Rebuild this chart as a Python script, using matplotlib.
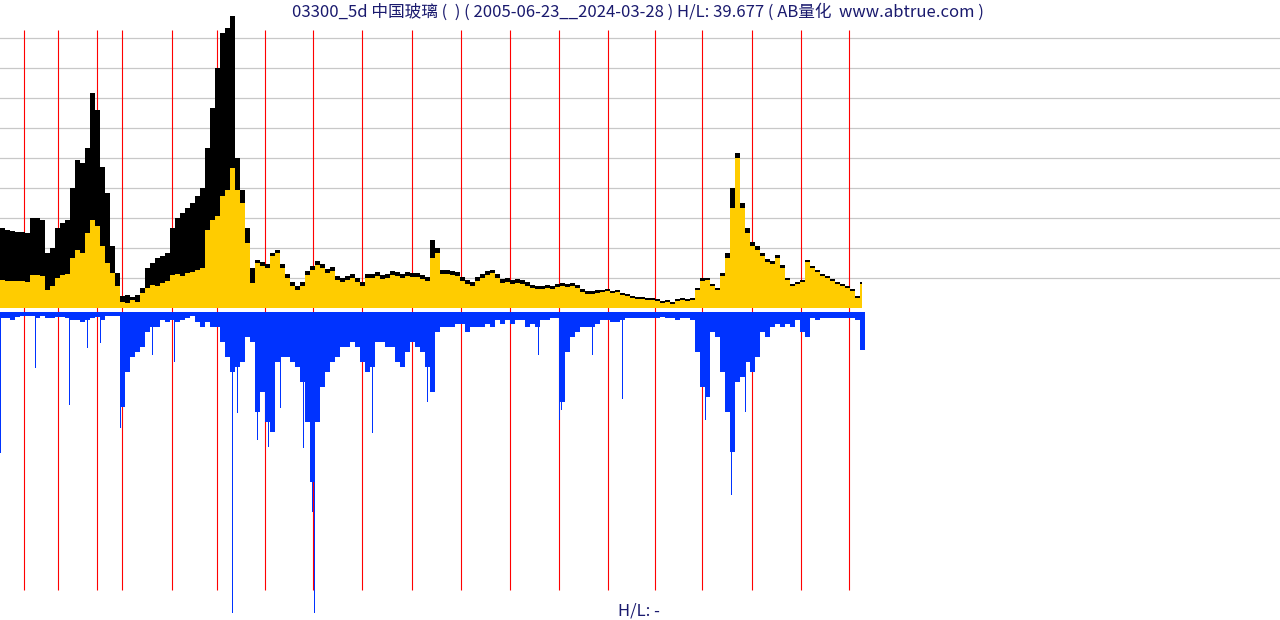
import numpy as np
import matplotlib
matplotlib.use('Agg')
import matplotlib.pyplot as plt
import matplotlib.transforms as mtransforms

plt.rcParams['font.family'] = ['Noto Sans CJK SC', 'DejaVu Sans']

# bar positions (one sample every 5 bars)
step = 5
xs = np.arange(0, 861, step)

# close (yellow area), price units
close = [28, 27, 27, 27, 27, 26, 33, 33, 32, 18,
         22, 30, 33, 34, 50, 58, 55, 75, 88, 82,
         62, 45, 35, 22, 6, 5, 8, 6, 15, 20,
         23, 22, 25, 27, 33, 34, 32, 35, 36, 38,
         40, 78, 88, 92, 112, 118, 140, 118, 105, 65,
         25, 45, 42, 40, 52, 55, 40, 30, 22, 18,
         22, 33, 38, 43, 40, 35, 37, 28, 26, 28,
         30, 26, 22, 30, 30, 32, 29, 30, 33, 32,
         30, 32, 31, 31, 29, 27, 50, 55, 34, 34,
         33, 32, 27, 24, 22, 27, 30, 33, 35, 30,
         25, 26, 24, 25, 24, 22, 20, 19, 19, 20,
         19, 21, 22, 21, 22, 20, 16, 14, 14, 15,
         16, 17, 15, 16, 13, 12, 10, 9, 9, 8,
         8, 7, 5, 6, 4, 7, 8, 7, 8, 18,
         27, 28, 22, 18, 32, 50, 100, 150, 100, 75,
         62, 58, 52, 46, 44, 50, 40, 28, 22, 24,
         26, 46, 40, 36, 32, 30, 27, 24, 22, 20,
         17, 10, 24]

# high (black area)
high = [80, 78, 77, 76, 76, 75, 90, 90, 88, 55,
        60, 80, 85, 88, 120, 148, 145, 160, 215, 198,
        141, 115, 62, 35, 12, 13, 11, 13, 20, 40,
        45, 50, 52, 55, 80, 90, 95, 100, 105, 112,
        120, 160, 200, 240, 275, 280, 292, 150, 118, 80,
        40, 48, 46, 44, 55, 58, 44, 34, 26, 22,
        26, 37, 42, 47, 44, 39, 41, 32, 30, 32,
        34, 30, 26, 34, 34, 36, 33, 34, 37, 36,
        34, 36, 35, 35, 33, 31, 68, 60, 38, 38,
        37, 36, 31, 28, 26, 31, 34, 37, 38, 34,
        29, 30, 28, 29, 28, 26, 23, 22, 22, 23,
        22, 24, 25, 24, 25, 23, 19, 17, 17, 18,
        18, 19, 17, 18, 15, 14, 12, 11, 11, 10,
        10, 9, 7, 8, 6, 9, 10, 9, 10, 20,
        30, 30, 24, 20, 35, 55, 120, 155, 105, 80,
        66, 62, 55, 49, 47, 53, 43, 30, 24, 26,
        28, 48, 42, 38, 34, 32, 29, 26, 24, 22,
        19, 12, 26]

# volume (blue, drawn downward)
volume = [6, 6, 8, 5, 4, 4, 4, 6, 4, 6,
          6, 5, 5, 6, 8, 8, 10, 8, 6, 5,
          8, 4, 4, 4, 95, 60, 45, 40, 35, 20,
          15, 15, 8, 10, 8, 10, 8, 6, 4, 10,
          15, 10, 15, 15, 30, 45, 60, 55, 50, 25,
          30, 100, 80, 110, 120, 50, 45, 45, 50, 55,
          70, 110, 170, 110, 75, 60, 50, 45, 35, 35,
          30, 35, 50, 60, 55, 30, 30, 35, 35, 50,
          55, 40, 30, 35, 40, 55, 80, 20, 15, 15,
          15, 12, 12, 20, 15, 15, 15, 12, 15, 8,
          12, 8, 12, 8, 8, 15, 12, 15, 8, 8,
          6, 6, 90, 40, 25, 20, 15, 15, 15, 12,
          8, 8, 10, 10, 8, 6, 6, 6, 6, 6,
          6, 6, 5, 6, 6, 8, 6, 6, 8, 40,
          75, 85, 20, 25, 60, 100, 140, 70, 65, 50,
          60, 45, 20, 25, 15, 12, 15, 12, 15, 8,
          20, 25, 6, 8, 6, 6, 6, 6, 6, 6,
          6, 8, 38]

# single-day volume spikes
spike_x = [0, 35, 69, 87, 100, 120, 152, 174, 232, 237, 257, 268, 280,
           303, 312, 314, 372, 427, 538, 559, 561, 592, 622, 705, 731, 745]
spike_v = [141, 56, 93, 36, 31, 116, 43, 50, 301, 101, 128, 135, 96,
           136, 200, 301, 121, 90, 43, 108, 98, 43, 87, 108, 183, 100]

# year boundaries (bar index)
year_marks = [24, 58, 97, 122, 172, 217, 265, 313, 362, 412, 461, 510,
              559, 608, 655, 702, 752, 801, 849]
last_bar = 862

W, H = 1280, 620
fig = plt.figure(figsize=(12.8, 6.2), dpi=100)

# price panel
ax = fig.add_axes([0, (H - 308) / H, 1, 308 / H])
ax.set_xlim(0, W)
ax.set_ylim(0, 308)
ax.axis('off')
for g in range(30, 271, 30):
    ax.axhline(g, color='#c8c8c8', lw=0.9, zorder=0)

blend = mtransforms.blended_transform_factory(ax.transData, fig.transFigure)
ax.vlines(year_marks, (H - 590) / H, (H - 30) / H, colors='#ff0000', lw=0.8,
          transform=blend, clip_on=False, zorder=1)

edges = np.append(xs, last_bar)
ax.stairs(high, edges, fill=True, baseline=0, color='black', zorder=2)
ax.stairs(close, edges, fill=True, baseline=0, color='#ffcc00', zorder=3)

# volume panel
axv = fig.add_axes([0, 0, 1, (H - 312) / H])
axv.set_xlim(0, W)
axv.set_ylim(H - 312, 0)
axv.axis('off')
axv.patch.set_alpha(0)
vol = np.maximum(volume, 3)
axv.bar(xs, vol, width=step, align='edge', color='#0033ff', lw=0)
axv.bar(spike_x, spike_v, width=1.2, align='edge', color='#0033ff', lw=0)

fig.text(0.498, 1 - 12 / H,
         '03300_5d 中国玻璃 (  ) ( 2005-06-23__2024-03-28 ) H/L: 39.677 ( AB量化  www.abtrue.com )',
         ha='center', va='center', fontsize=12, color='#1a1a6e')
fig.text(0.499, 1 - 611 / H, 'H/L: -', ha='center', va='center',
         fontsize=12, color='#1a1a6e')

fig.savefig('out.png', dpi=100)
